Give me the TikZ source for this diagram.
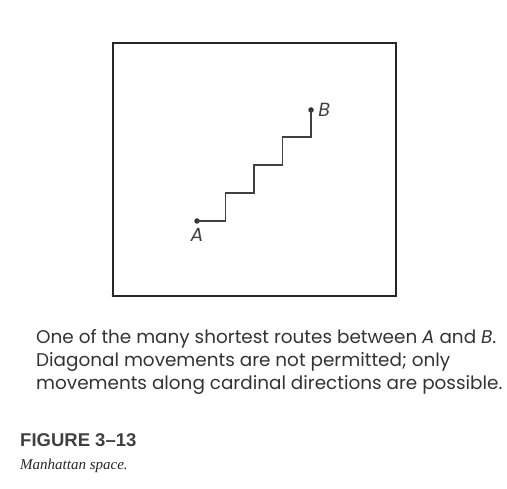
\documentclass[tikz,border=0pt]{standalone}
\usepackage{fontspec}
\setsansfont{Poppins}
\setmainfont{Liberation Serif}
\usepackage{tikz}
\usetikzlibrary{positioning, calc}

\tikzset{
  frame/.style={draw=black!85, line width=1.1pt},
  route/.style={draw=black!75, line width=1.6pt},
  pointdot/.style={circle, fill=black!80, inner sep=0pt, minimum size=5.5pt},
  pointlabel/.style={font=\sffamily\itshape\fontsize{19}{19}\selectfont, text=black!75},
  caption/.style={font=\sffamily\fontsize{18.4}{23}\selectfont, text=black!80, align=left, anchor=north west, inner sep=0pt},
}

\begin{document}
\begin{tikzpicture}[x=1pt, y=-1pt]
  \useasboundingbox (0,0) rectangle (507,489);

  % the square
  \draw[frame] (113,43) rectangle (396,296);
  \node[circle, fill=black!80, inner sep=0pt, minimum size=3pt] (corner) at (113,296) {};

  % end points
  \node[pointdot] (a) at (197,221) {};
  \node[pointdot] (b) at (311,110) {};
  \node[pointlabel, below=1pt of a] (alabel) {A};
  \node[pointlabel, right=1pt of b] (blabel) {B};

  % one shortest route
  \draw[route] (a.center) -- ++(28.5,0) -- ++(0,-28) -- ++(28.5,0) -- ++(0,-28)
    -- ++(28.5,0) -- ++(0,-28) -- ++(28.5,0) -- (b.center);

  \node[caption] (note) at (36,329) {%
    One of the many shortest routes between \textit{A} and \textit{B}.\\
    Diagonal movements are not permitted; only\\
    movements along cardinal directions are possible.};

  \node[anchor=west, inner sep=0pt, font=\bfseries\fontspec{Liberation Sans}\fontsize{18.5}{18.5}\selectfont, text=black!75] (fignum) at (20,440) {FIGURE 3\textendash 13};
  \node[anchor=west, inner sep=0pt, font=\itshape\fontsize{15}{15}\selectfont, text=black!85] (figtitle) at (20,466) {Manhattan space.};
\end{tikzpicture}
\end{document}
